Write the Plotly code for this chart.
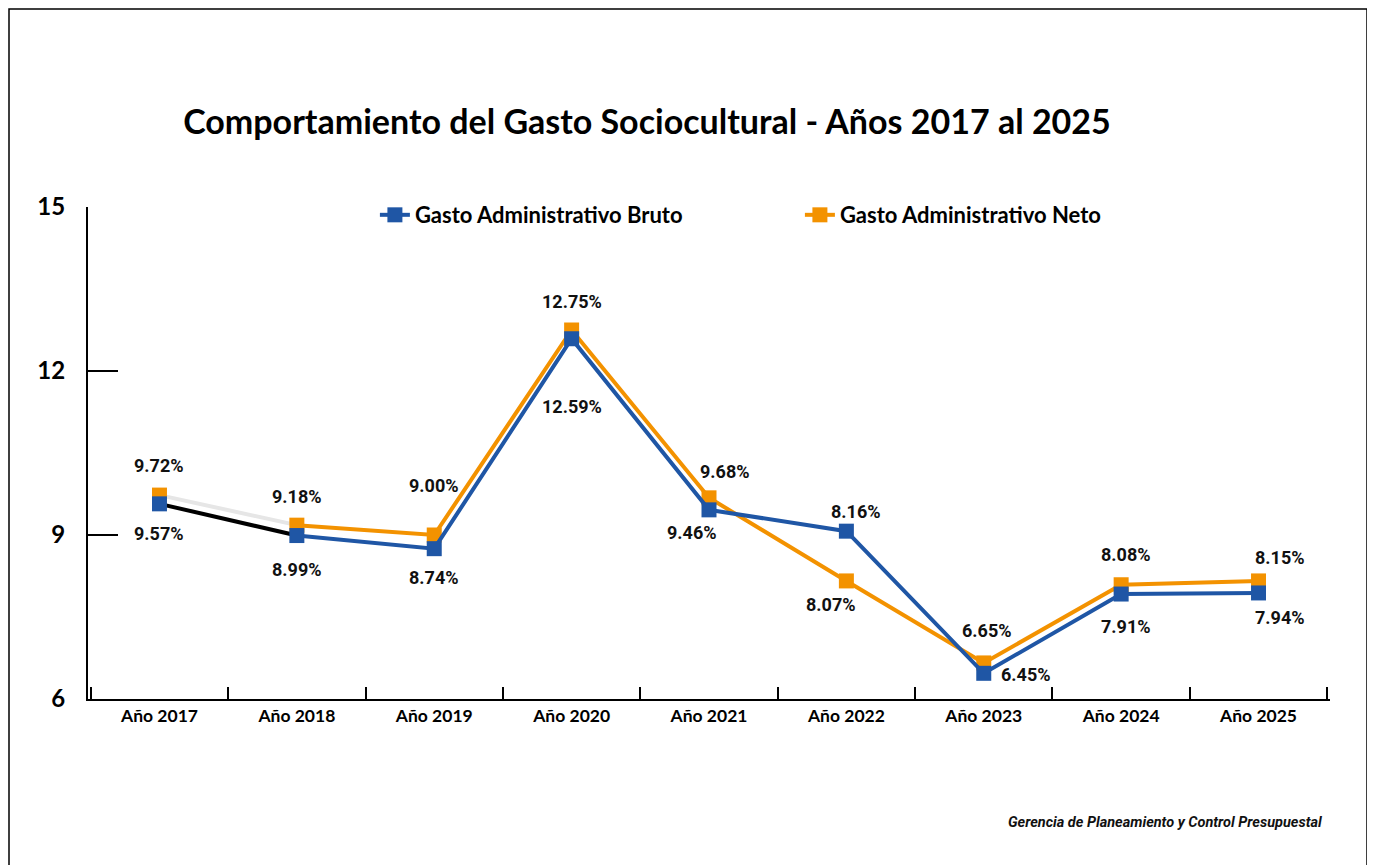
import plotly.graph_objects as go

categories = ["Año 2017", "Año 2018", "Año 2019", "Año 2020", "Año 2021",
              "Año 2022", "Año 2023", "Año 2024", "Año 2025"]
bruto_values = [9.57, 8.99, 8.75, 12.59, 9.46, 9.07, 6.47, 7.92, 7.94]
neto_values = [9.73, 9.18, 9.00, 12.75, 9.68, 8.16, 6.66, 8.09, 8.16]
bruto_labels = ["9.57%", "8.99%", "8.74%", "12.59%", "9.46%", "8.16%", "6.45%", "7.91%", "7.94%"]
neto_labels = ["9.72%", "9.18%", "9.00%", "12.75%", "9.68%", "8.07%", "6.65%", "8.08%", "8.15%"]
y_ticks = [6, 9, 12, 15]

# label offsets (px): (xshift, yshift)
bruto_off = [(0, -30), (0, -34), (0, -29), (0, -68), (-17, -23), (10, 20), (42, -1), (5, -32), (21, -25)]
neto_off = [(0, 30), (0, 29), (0, 50), (0, 29), (16, 26), (-15, -24), (3, 32), (5, 30), (21, 23)]

BLUE = "#1F56A5"
ORANGE = "#F39200"
LW = 4
MS = 15

fig = go.Figure()

# Neto
fig.add_trace(go.Scatter(x=categories[:2], y=neto_values[:2], mode="lines",
                         line=dict(color="#E6E6E6", width=LW), showlegend=False, hoverinfo="skip"))
fig.add_trace(go.Scatter(x=categories[1:], y=neto_values[1:], mode="lines+markers",
                         name="Gasto Administrativo Neto",
                         line=dict(color=ORANGE, width=LW),
                         marker=dict(symbol="square", size=MS, color=ORANGE)))
fig.add_trace(go.Scatter(x=categories[:1], y=neto_values[:1], mode="markers",
                         marker=dict(symbol="square", size=MS, color=ORANGE), showlegend=False))
# Bruto
fig.add_trace(go.Scatter(x=categories[:2], y=bruto_values[:2], mode="lines",
                         line=dict(color="#000000", width=LW), showlegend=False, hoverinfo="skip"))
fig.add_trace(go.Scatter(x=categories[1:], y=bruto_values[1:], mode="lines+markers",
                         name="Gasto Administrativo Bruto",
                         line=dict(color=BLUE, width=LW),
                         marker=dict(symbol="square", size=MS, color=BLUE)))
fig.add_trace(go.Scatter(x=categories[:1], y=bruto_values[:1], mode="markers",
                         marker=dict(symbol="square", size=MS, color=BLUE), showlegend=False))

label_font = dict(family="Roboto", size=18, color="#111111", weight="bold")
for cat, v, t, (dx, dy) in zip(categories, bruto_values, bruto_labels, bruto_off):
    fig.add_annotation(x=cat, y=v, text=t, showarrow=False, xshift=dx, yshift=dy, font=label_font)
for cat, v, t, (dx, dy) in zip(categories, neto_values, neto_labels, neto_off):
    fig.add_annotation(x=cat, y=v, text=t, showarrow=False, xshift=dx, yshift=dy, font=label_font)

fig.add_annotation(xref="paper", yref="paper", x=0.996, y=-0.25, xanchor="right", yanchor="middle",
                   text="<b><i>Gerencia de Planeamiento y Control Presupuestal</i></b>",
                   showarrow=False, font=dict(family="Roboto", size=14.5, color="#111111"))

# page frame
fig.add_shape(type="rect", xref="paper", yref="paper",
              x0=-79 / 1242, x1=1279 / 1242, y0=-180 / 492, y1=690 / 492,
              line=dict(color="#000000", width=1.5), layer="below")

fig.update_layout(
    width=1375, height=865,
    margin=dict(l=80, r=53, t=199, b=174),
    paper_bgcolor="white", plot_bgcolor="white",
    title=dict(text="Comportamiento del Gasto Sociocultural - Años 2017 al 2025",
               x=0.4647, xanchor="center", y=0.868, yanchor="middle",
               font=dict(family="Lato", size=34, color="#000000", weight="bold")),
    legend=dict(orientation="h", x=0.231, xanchor="left", y=0.9837, yanchor="middle",
                traceorder="reversed", entrywidth=380, entrywidthmode="pixels",
                font=dict(family="Lato", size=22, color="#000000", weight="bold"),
                bgcolor="rgba(0,0,0,0)"),
    showlegend=True,
)
fig.update_xaxes(showline=True, linecolor="#000000", linewidth=2, showgrid=False,
                 ticks="inside", ticklen=12, tickwidth=2, tickcolor="#000000",
                 tickson="boundaries",
                 tickfont=dict(family="Lato", size=17.5, color="#000000", weight="bold"))
fig.update_yaxes(range=[6, 15], tickvals=y_ticks, showline=True, linecolor="#000000", linewidth=2,
                 showgrid=False, zeroline=False, ticks="inside", ticklen=30, tickwidth=2,
                 tickcolor="#000000", ticklabelstandoff=16,
                 tickfont=dict(family="Lato", size=24, color="#000000", weight="bold"))

fig.write_html("out.html")
